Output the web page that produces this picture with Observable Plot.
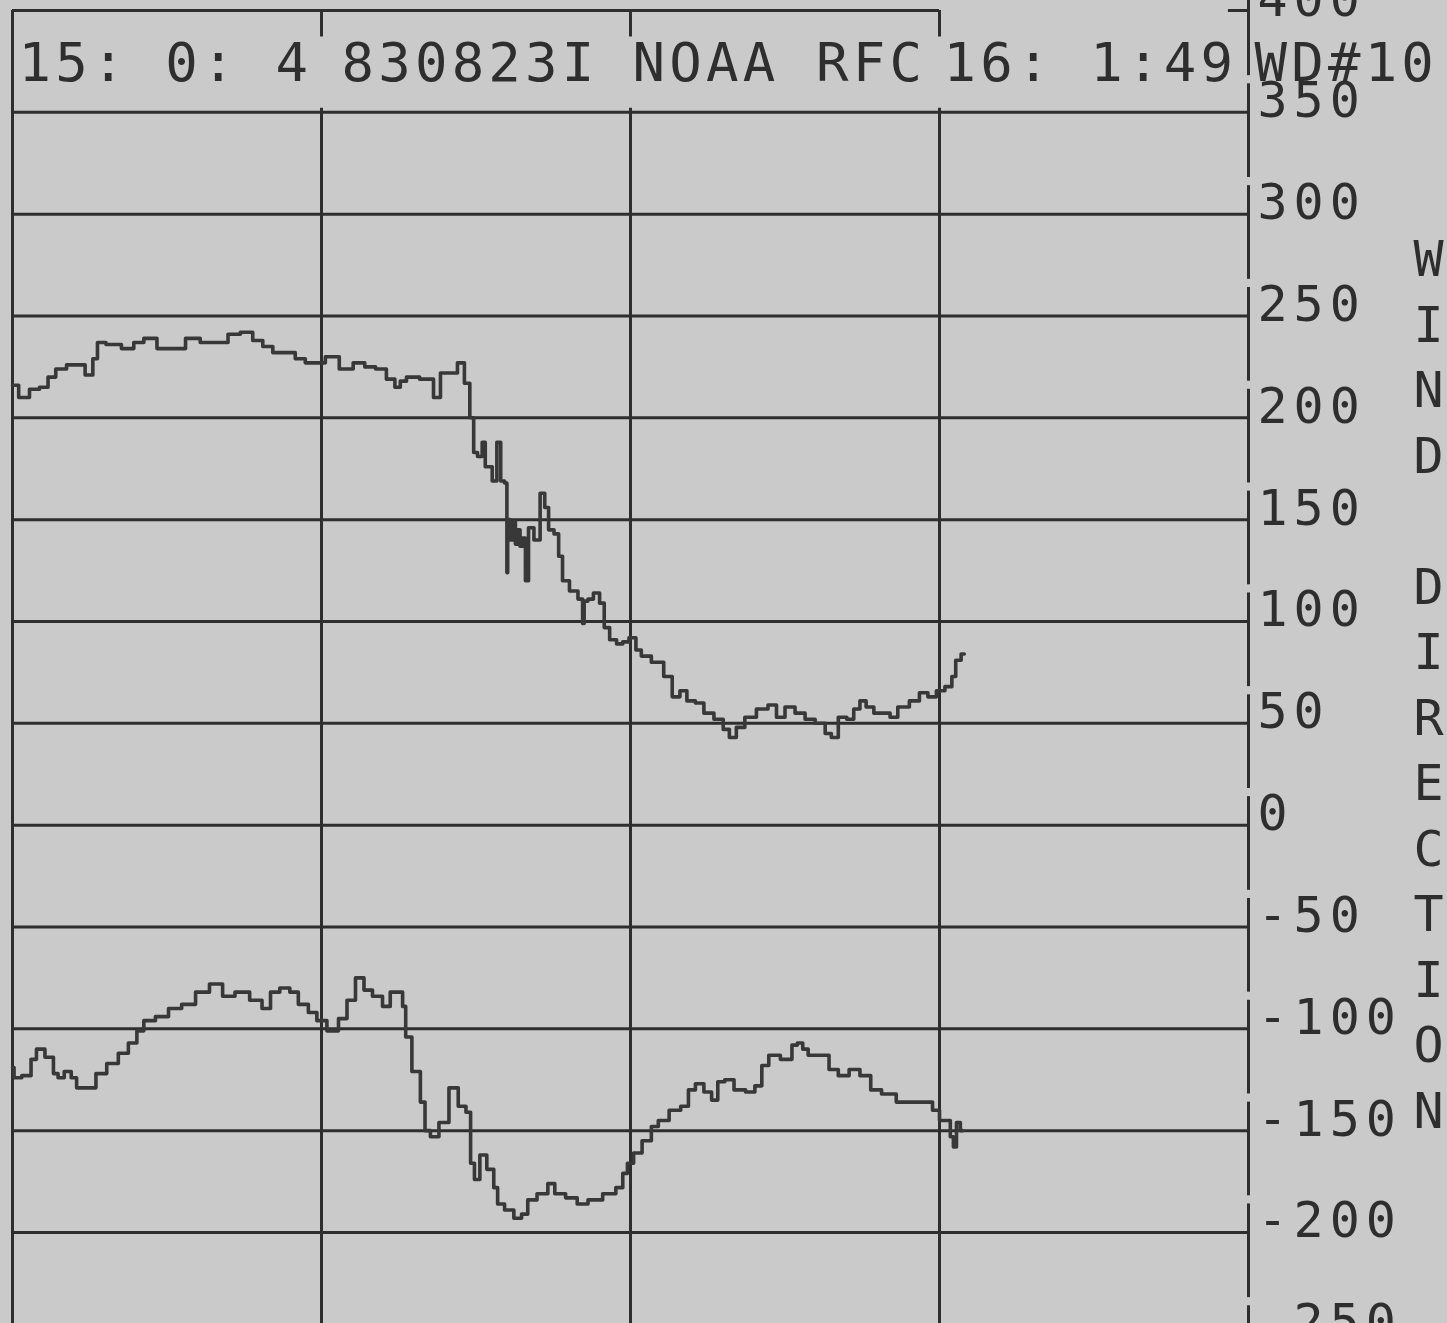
<!DOCTYPE html>
<html><head><meta charset="utf-8">
<script src="https://cdn.jsdelivr.net/npm/d3@7"></script>
<script src="https://cdn.jsdelivr.net/npm/@observablehq/plot@0.6"></script>
<style>
html,body{margin:0;padding:0;background:#cacaca;overflow:hidden;}
#chart svg{display:block;}
</style></head><body><div id="chart"></div>
<script>
// ---- data (minutes after 15:00, wind direction in degrees) ----
const upperTime = [0.0,0.8,1.4,2.1,2.5,3.1,3.9,4.4,5.0,5.4,5.6,6.5,7.6,8.1,8.9,9.8,10.7,11.7,12.6,13.6,14.3,15.2,15.9,16.5,17.2,18.0,18.6,19.3,19.9,20.6,21.7,22.4,23.2,23.8,24.6,24.9,25.3,25.7,27.0,27.5,27.9,28.5,29.1,29.4,29.8,29.9,30.3,30.5,30.7,30.9,31.2,31.5,31.7,32.0,32.0,32.1,32.3,32.5,32.6,32.8,32.9,33.1,33.3,33.5,34.0,34.3,34.6,34.8,35.3,35.4,35.8,36.3,36.9,36.9,37.1,37.4,37.8,38.2,38.4,38.9,39.3,39.7,40.1,40.6,40.8,41.9,42.4,43.0,43.4,43.9,44.5,45.0,45.8,46.2,46.6,47.1,47.7,48.6,49.2,49.7,50.3,51.0,51.6,52.3,52.9,53.1,53.8,54.2,54.7,55.0,55.5,56.0,56.6,57.0,57.6,58.5,58.9,59.6,60.0,60.7,60.9,61.2,61.6];
const upperDir = [216,210,214,215,220,224,226,226,221,229,237,236,234,237,239,234,234,239,237,237,241,242,238,235,232,232,229,227,227,230,224,227,225,224,219,215,218,220,219,210,222,222,227,217,200,183,181,188,176,176,169,188,169,168,124,150,140,149,138,145,137,141,120,146,140,163,156,145,143,132,120,115,111,99,110,111,114,109,97,91,89,90,92,86,83,80,73,63,66,61,60,55,52,47,43,48,53,57,59,53,58,55,52,50,45,43,53,52,57,61,58,55,55,53,58,61,65,63,66,68,73,81,84];
const lowerTime = [0.0,0.2,1.0,1.4,1.7,2.5,2.8,3.1,3.6,4.0,4.3,5.1,5.7,6.5,7.2,7.8,8.3,8.7,9.8,10.4,11.5,12.2,13.3,13.9,14.9,15.8,16.5,16.9,17.7,18.2,18.8,19.5,19.9,20.8,21.4,21.9,22.5,23.0,23.6,24.3,24.6,25.1,25.4,25.5,26.2,26.6,26.8,27.3,27.9,28.6,29.1,29.6,29.7,30.1,30.4,31.0,31.3,31.5,32.2,32.7,33.2,33.5,34.4,34.9,35.3,36.3,36.8,37.7,38.7,39.4,39.6,40.0,40.4,41.1,41.6,42.0,43.0,43.5,44.0,44.4,45.1,45.4,45.9,46.3,47.1,47.8,48.3,48.7,49.2,50.2,50.7,50.9,51.4,51.6,52.6,53.1,53.8,54.5,55.2,55.9,56.6,57.8,59.3,59.8,60.2,60.6,60.8,61.0,61.2,61.5];
const lowerDir = [-119,-124,-123,-115,-110,-114,-122,-124,-121,-124,-129,-129,-122,-117,-112,-107,-101,-96,-94,-90,-88,-82,-78,-84,-82,-86,-90,-82,-80,-82,-88,-92,-96,-101,-95,-86,-75,-81,-84,-89,-82,-82,-89,-104,-121,-136,-150,-153,-146,-129,-138,-141,-166,-174,-162,-169,-178,-186,-189,-193,-191,-184,-181,-176,-181,-183,-186,-184,-181,-178,-171,-166,-161,-155,-148,-145,-140,-138,-130,-127,-131,-135,-126,-125,-130,-131,-128,-118,-113,-115,-108,-107,-110,-113,-113,-120,-123,-120,-123,-130,-132,-136,-136,-140,-145,-145,-153,-158,-146,-150];
const yTicks = [400,350,300,250,200,150,100,50,0,-50,-100,-150,-200,-250];
const xGrid = [20,40,60];
const headerFields = ["15: 0: 4","830823I","NOAA RFC","16: 1:49","WD#10"];
const headerAt = [0,20,40,60,80];
const axisTitle = "WIND DIRECTION";

// ---- build ----
const upper = upperTime.map((t,i)=>({t, v: upperDir[i]}));
const lower = lowerTime.map((t,i)=>({t, v: lowerDir[i]}));
const yMin = -244.7, yMax = 400, xMax = 80;
const bandTop = 387, bandBottom = 352;   // printed header band (no vertical grid)
const ink = "#2e2e2e", trace = "#383838";
const mono = "DejaVu Sans Mono";
const headerDx = [6,20,2,4,6];

const marks = [
  // horizontal grid
  Plot.ruleY(yTicks.filter(v=>v<400), {x1:0, x2:xMax, stroke:ink, strokeWidth:3}),
  Plot.ruleY([400], {x1:0, x2:60, stroke:ink, strokeWidth:3}),
  Plot.ruleY([400], {x1:78.7, x2:xMax, stroke:ink, strokeWidth:3}),
  // left border
  Plot.ruleX([0], {y1:yMin, y2:yMax, stroke:ink, strokeWidth:3}),
  // vertical grid, interrupted by header band
  Plot.ruleX(xGrid, {y1:bandTop, y2:yMax, stroke:ink, strokeWidth:3}),
  Plot.ruleX(xGrid, {y1:yMin, y2:bandBottom, stroke:ink, strokeWidth:3}),
  // right axis line with gaps above each label
  Plot.ruleX(yTicks.map(v=>({y1:v+14, y2:v-32})), {x:xMax, y1:"y1", y2:"y2", stroke:ink, strokeWidth:3}),
  // traces
  Plot.line(upper, {x:"t", y:"v", stroke:trace, strokeWidth:3.6, curve:"step"}),
  Plot.line(lower, {x:"t", y:"v", stroke:trace, strokeWidth:3.6, curve:"step"}),
  // tick labels
  Plot.text(yTicks, {x:xMax, y:d=>d, text:d=>String(d), textAnchor:"start", dx:9, dy:-11,
    fontSize:50, fontFamily:mono, fill:ink, className:"tick"}),
  // axis title (vertical letters)
  Plot.text([axisTitle.split("").map(c=>c===" "?"\u00a0":c).join("\n")], {frameAnchor:"right", dx:180, dy:14,
    textAnchor:"middle", lineHeight:1.31, fontSize:50, fontFamily:mono, fill:ink})
];
headerFields.forEach((f,i)=>{
  marks.push(Plot.text([f], {x:headerAt[i], frameAnchor:"top", lineAnchor:"middle", dy:53, dx:headerDx[i], text:d=>d,
    textAnchor:"start", fontSize:54, fontFamily:mono, fill:ink, className:"hdr"}));
});

const plot = Plot.plot({
  width:1447, height:1323,
  marginLeft:12, marginRight:199, marginTop:10, marginBottom:0,
  x:{domain:[0,xMax], axis:null},
  y:{domain:[yMin,yMax], axis:null},
  style:{background:"#cacaca", overflow:"visible"},
  marks
});
plot.querySelectorAll("g.hdr text").forEach(t=>t.setAttribute("letter-spacing","4.2"));
plot.querySelectorAll("g.tick text").forEach(t=>t.setAttribute("letter-spacing","6"));
document.getElementById("chart").append(plot);
</script></body></html>
